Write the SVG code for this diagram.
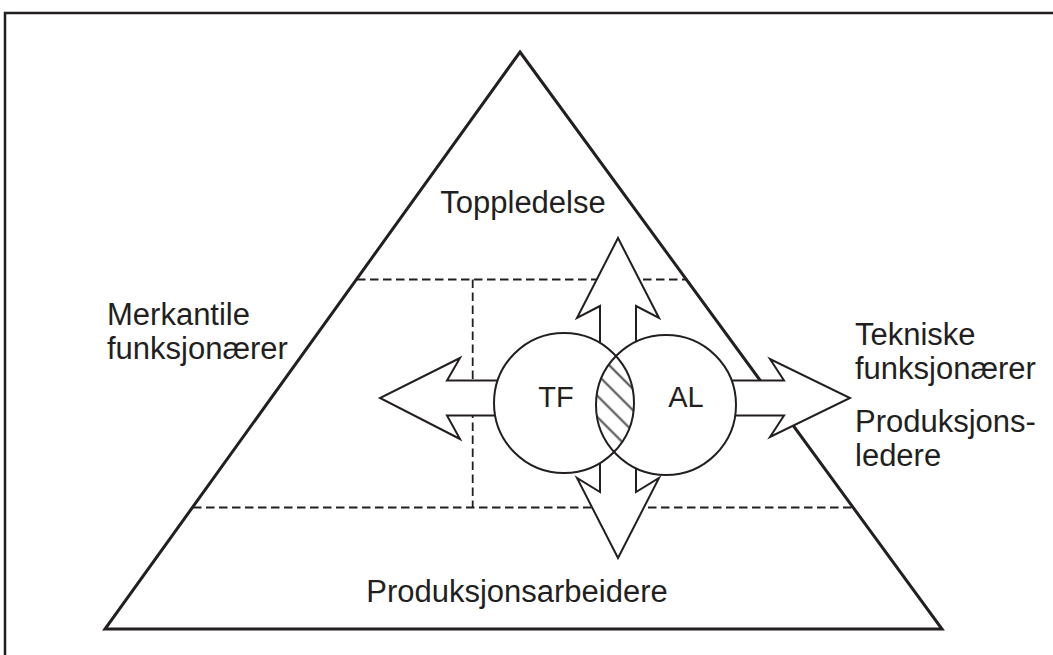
<svg xmlns="http://www.w3.org/2000/svg" width="1053" height="655" viewBox="0 0 1053 655">
  <defs>
    <style>
      .frame { fill: none; stroke: #231f20; stroke-width: 2.5; }
      .tri { fill: none; stroke: #231f20; stroke-width: 3; stroke-linejoin: miter; }
      .dash { fill: none; stroke: #231f20; stroke-width: 1.8; stroke-dasharray: 8.5 4.5; }
      .arrow { fill: #ffffff; stroke: #231f20; stroke-width: 2; stroke-linejoin: miter; }
      .circ { fill: #ffffff; stroke: none; }
      .outline { fill: none; stroke: #231f20; stroke-width: 2; }
      .lbl { font-family: "Liberation Sans", Arial, Helvetica, sans-serif; font-size: 31px; fill: #231f20; }
      .node { font-family: "Liberation Sans", Arial, Helvetica, sans-serif; font-size: 29px; fill: #231f20; text-anchor: middle; }
    </style>
    <pattern id="hatch" patternUnits="userSpaceOnUse" width="15" height="15" patternTransform="rotate(45)">
      <line x1="0" y1="7.5" x2="15" y2="7.5" stroke="#4a4a4a" stroke-width="2"/>
    </pattern>
    <clipPath id="clipTF">
      <circle cx="564" cy="403" r="70"/>
    </clipPath>
  </defs>

  <rect class="frame" x="5" y="13" width="1070" height="680"/>

  <g id="pyramid">
    <polygon class="tri" points="520,52 942,629 105,629"/>
  </g>

  <g id="levels">
    <line class="dash" x1="357" y1="279.5" x2="686" y2="279.5"/>
    <line class="dash" x1="193" y1="507.5" x2="853" y2="507.5"/>
    <line class="dash" x1="472.7" y1="279.5" x2="472.7" y2="507.5"/>
  </g>

  <g id="connectors">
    <polygon class="arrow" points="600,403 600,306 577,318 618,238 659,318 636,306 636,403"/>
    <polygon class="arrow" points="600,403 600,492 577,478 618,558 659,478 636,492 636,403"/>
    <polygon class="arrow" points="564,380.5 447,380.5 460,358 380,398 460,439 447,415.5 564,415.5"/>
    <polygon class="arrow" points="666,380.5 784,380.5 770,359 850,398 770,437 784,415.5 666,415.5"/>
  </g>

  <g id="node-TF">
    <circle class="circ" cx="564" cy="403" r="70"/>
  </g>
  <g id="node-AL">
    <circle class="circ" cx="666" cy="405" r="70"/>
  </g>
  <g id="overlap">
    <circle cx="666" cy="405" r="70" fill="url(#hatch)" clip-path="url(#clipTF)"/>
  </g>
  <g id="outlines">
    <circle class="outline" cx="564" cy="403" r="70"/>
    <circle class="outline" cx="666" cy="405" r="70"/>
    <text class="node" x="556" y="407">TF</text>
    <text class="node" x="686" y="407">AL</text>
  </g>

  <g id="labels">
    <text class="lbl" x="523" y="213" text-anchor="middle">Toppledelse</text>
    <text class="lbl" x="107" y="325">Merkantile</text>
    <text class="lbl" x="107" y="359">funksjonærer</text>
    <text class="lbl" x="855" y="345">Tekniske</text>
    <text class="lbl" x="855" y="379">funksjonærer</text>
    <text class="lbl" x="855" y="432">Produksjons-</text>
    <text class="lbl" x="855" y="466">ledere</text>
    <text class="lbl" x="517" y="602" text-anchor="middle">Produksjonsarbeidere</text>
  </g>
</svg>
